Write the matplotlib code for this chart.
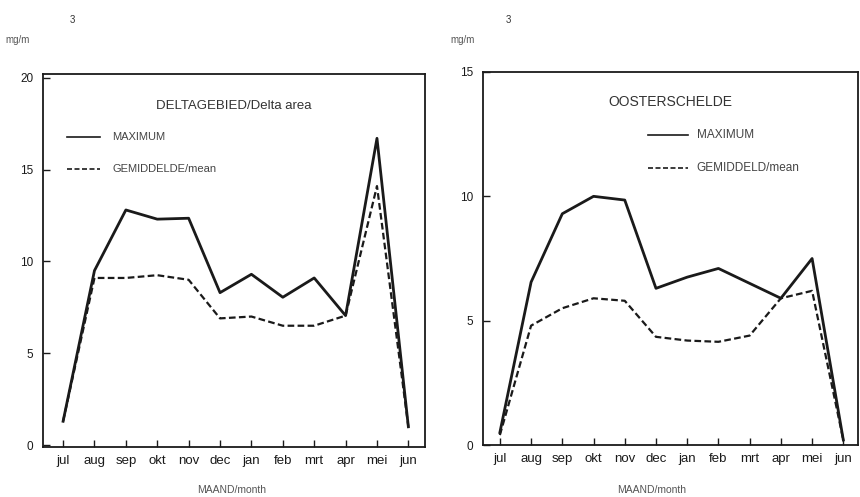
import matplotlib
matplotlib.use("Agg")
import matplotlib.pyplot as plt

plt.rcParams['font.family'] = ['Liberation Sans Narrow', 'Liberation Sans', 'DejaVu Sans']

months = ["jul", "aug", "sep", "okt", "nov", "dec", "jan", "feb", "mrt", "apr", "mei", "jun"]

delta_max = [1.3, 9.5, 12.8, 12.3, 12.35, 8.3, 9.3, 8.05, 9.1, 7.05, 16.7, 1.0]
delta_mean = [1.3, 9.1, 9.1, 9.25, 9.0, 6.9, 7.0, 6.5, 6.5, 7.05, 14.1, 1.0]

oos_max = [0.5, 6.55, 9.3, 10.0, 9.85, 6.3, 6.75, 7.1, 6.5, 5.9, 7.5, 0.2]
oos_mean = [0.4, 4.8, 5.5, 5.9, 5.8, 4.35, 4.2, 4.15, 4.4, 5.9, 6.2, 0.2]

left_yticks = [0, 5, 10, 15, 20]
right_yticks = [0, 5, 10, 15]

W, H = 860, 497
fig = plt.figure(figsize=(W / 100, H / 100), dpi=100)

ink = "#1a1a1a"
dash = (0, (3, 1.5))


def px_axes(x0, x1, y0, y1):
    return fig.add_axes([x0 / W, 1 - y1 / H, (x1 - x0) / W, (y1 - y0) / H])


def style(ax, labels, yticks):
    ax.set_xticks(range(len(labels)))
    ax.set_xticklabels(labels, fontsize=9.5, color=ink)
    ax.set_yticks(yticks)
    ax.set_yticklabels([str(v) for v in yticks], fontsize=8.5, color="#444444")
    ax.tick_params(direction="in", length=5, width=1, colors=ink, pad=7)
    ax.tick_params(axis="x", pad=6)
    for s in ax.spines.values():
        s.set_linewidth(1.3)
        s.set_color(ink)


def key(ax, x0, x1, xt, y_max, y_mean, max_label, mean_label, size):
    ax.plot([x0, x1], [y_max, y_max], transform=ax.transAxes, color=ink, lw=1.2)
    ax.plot([x0, x1], [y_mean, y_mean], transform=ax.transAxes, color=ink, lw=1.2, ls=dash)
    ax.text(xt, y_max, max_label, transform=ax.transAxes, ha="left", va="center",
            fontsize=size, color="#444444")
    ax.text(xt, y_mean, mean_label, transform=ax.transAxes, ha="left", va="center",
            fontsize=size, color="#444444")


x = list(range(len(months)))

# Delta area
ax1 = px_axes(43, 425, 74, 447)
ax1.plot(x, delta_max, color=ink, lw=2.0)
ax1.plot(x, delta_mean, color=ink, lw=1.6, ls=dash)
ax1.set_xlim(-0.64, 11.53)
ax1.set_ylim(-0.1, 20.2)
style(ax1, months, left_yticks)
ax1.text(0.5, 0.915, "DELTAGEBIED/Delta area", transform=ax1.transAxes,
         ha="center", va="center", fontsize=9.5, color="#333333")
key(ax1, 0.063, 0.15, 0.182, 0.832, 0.746, "MAXIMUM", "GEMIDDELDE/mean", 8)

# Oosterschelde
ax2 = px_axes(483, 858, 72, 445)
ax2.plot(x, oos_max, color=ink, lw=2.0)
ax2.plot(x, oos_mean, color=ink, lw=1.6, ls=dash)
ax2.set_xlim(-0.54, 11.47)
ax2.set_ylim(0, 15)
style(ax2, months, right_yticks)
ax2.text(0.5, 0.92, "OOSTERSCHELDE", transform=ax2.transAxes,
         ha="center", va="center", fontsize=10, color="#333333")
key(ax2, 0.44, 0.547, 0.57, 0.83, 0.742, "MAXIMUM", "GEMIDDELD/mean", 8.5)

# unit labels and axis titles
fig.text(5 / W, 1 - 40 / H, "mg/m", fontsize=7, color="#555555", ha="left", va="center")
fig.text(70 / W, 1 - 20 / H, "3", fontsize=7, color="#333333", ha="left", va="center")
fig.text(450 / W, 1 - 40 / H, "mg/m", fontsize=7, color="#555555", ha="left", va="center")
fig.text(506 / W, 1 - 20 / H, "3", fontsize=7, color="#333333", ha="left", va="center")
fig.text(232 / W, 1 - 490 / H, "MAAND/month", fontsize=7.5, color="#555555", ha="center", va="center")
fig.text(652 / W, 1 - 490 / H, "MAAND/month", fontsize=7.5, color="#555555", ha="center", va="center")

fig.savefig("out.png", dpi=100, facecolor="white")
